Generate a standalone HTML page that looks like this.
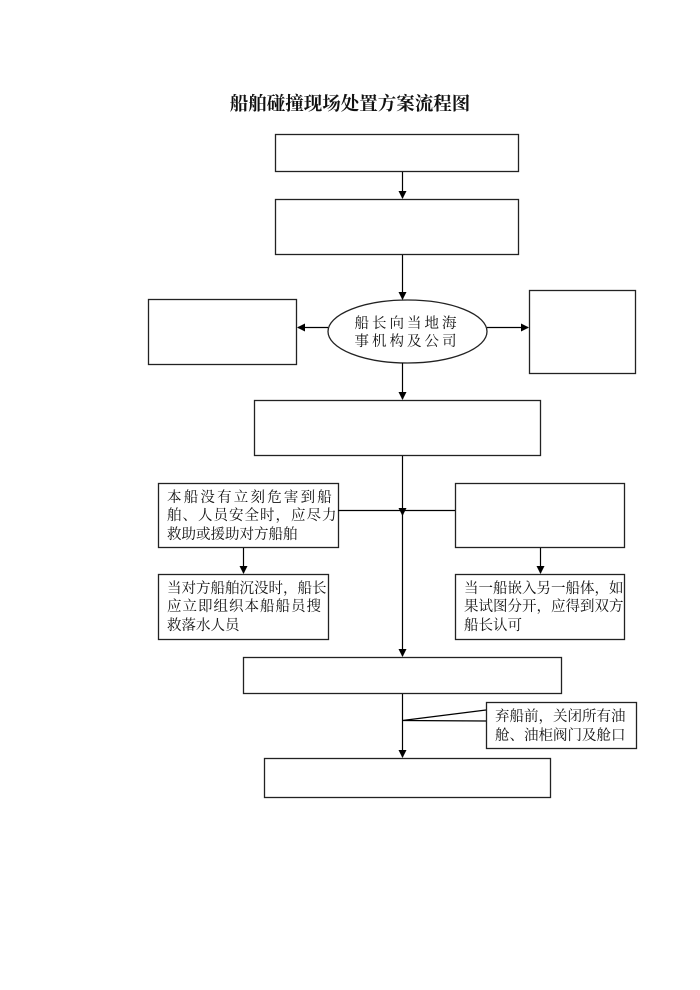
<!DOCTYPE html>
<html><head><meta charset="utf-8"><style>
html,body{margin:0;padding:0;background:#fff;width:700px;height:990px;overflow:hidden}
svg text{font-family:"Liberation Serif","Noto Serif CJK SC","Noto Sans CJK SC",serif;fill:#111}
</style></head><body>
<svg width="700" height="990" viewBox="0 0 700 990" xmlns="http://www.w3.org/2000/svg">
<defs><marker id="a" markerWidth="8" markerHeight="8" refX="7" refY="4" orient="auto" markerUnits="userSpaceOnUse"><path d="M0,0 L8,4 L0,8 z" fill="#000"/></marker></defs>
<text x="350" y="110" text-anchor="middle" font-size="18.5" font-weight="bold" style="font-family:'Noto Serif CJK SC','Noto Sans CJK SC',serif">船舶碰撞现场处置方案流程图</text>
<g fill="none" stroke="#222" stroke-width="1.3">
<rect x="275.5" y="134.5" width="243" height="37"/>
<rect x="275.5" y="199.5" width="243" height="55"/>
<rect x="148.5" y="299.5" width="148" height="65"/>
<ellipse cx="407.5" cy="331.5" rx="79.5" ry="31.5"/>
<rect x="529.5" y="290.5" width="106" height="83"/>
<rect x="254.5" y="400.5" width="286" height="55"/>
<rect x="158.5" y="483.5" width="180" height="64"/>
<rect x="455.5" y="483.5" width="169" height="64"/>
<rect x="158.5" y="574.5" width="170" height="65"/>
<rect x="455.5" y="574.5" width="169" height="65"/>
<rect x="243.5" y="657.5" width="318" height="36"/>
<rect x="486.5" y="702.5" width="150" height="46"/>
<rect x="264.5" y="758.5" width="286" height="39"/>
</g>
<g stroke="#000" stroke-width="1.2" fill="none">
<line x1="402.5" y1="172" x2="402.5" y2="198" marker-end="url(#a)"/>
<line x1="402.5" y1="255" x2="402.5" y2="299" marker-end="url(#a)"/>
<line x1="328" y1="327.5" x2="298" y2="327.5" marker-end="url(#a)"/>
<line x1="487" y1="327.5" x2="528" y2="327.5" marker-end="url(#a)"/>
<line x1="402.5" y1="363" x2="402.5" y2="399" marker-end="url(#a)"/>
<line x1="402.5" y1="456" x2="402.5" y2="515" marker-end="url(#a)"/>
<line x1="338" y1="510.5" x2="455" y2="510.5"/>
<line x1="402.5" y1="510" x2="402.5" y2="656" marker-end="url(#a)"/>
<line x1="243.5" y1="548" x2="243.5" y2="573" marker-end="url(#a)"/>
<line x1="540.5" y1="548" x2="540.5" y2="573" marker-end="url(#a)"/>
<line x1="402.5" y1="694" x2="402.5" y2="757" marker-end="url(#a)"/>
<polyline points="486,710 402.5,720.5 486,721"/>
</g>
<g font-size="14.5">
<text x="407" y="328" text-anchor="middle" letter-spacing="3">船长向当地海</text>
<text x="407" y="346" text-anchor="middle" letter-spacing="3">事机构及公司</text>
<text x="167" y="502" letter-spacing="2.2">本船没有立刻危害到船</text>
<text x="167" y="520" letter-spacing="1">舶、人员安全时，应尽力</text>
<text x="167" y="539">救助或援助对方船舶</text>
<text x="167" y="593">当对方船舶沉没时，船长</text>
<text x="167" y="611" letter-spacing="1">应立即组织本船船员搜</text>
<text x="167" y="630">救落水人员</text>
<text x="464" y="593">当一船嵌入另一船体，如</text>
<text x="464" y="611">果试图分开，应得到双方</text>
<text x="464" y="630">船长认可</text>
<text x="495" y="721">弃船前，关闭所有油</text>
<text x="495" y="740">舱、油柜阀门及舱口</text>
</g>
</svg>
</body></html>
